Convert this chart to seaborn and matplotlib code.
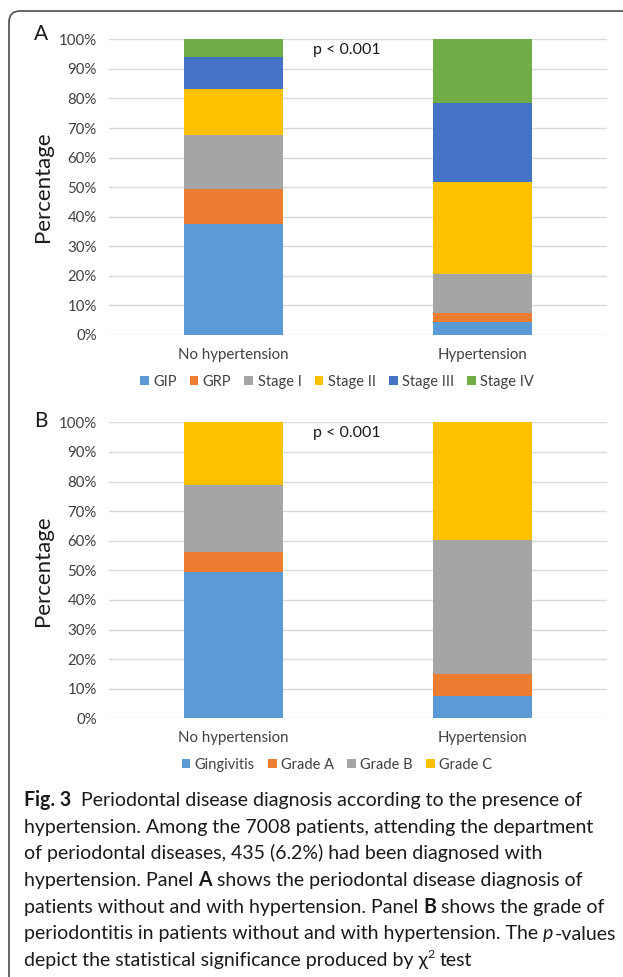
import numpy as np
import pandas as pd
import matplotlib
matplotlib.use("Agg")
import matplotlib.pyplot as plt
import seaborn as sns
from matplotlib.patches import FancyBboxPatch, Patch

# ---- data -------------------------------------------------------------
groups = ["No hypertension", "Hypertension"]

stage_labels = ["GIP", "GRP", "Stage I", "Stage II", "Stage III", "Stage IV"]
stage_no_htn = [37.7, 11.6, 18.5, 15.3, 10.9, 6.0]
stage_htn = [4.5, 2.8, 13.2, 31.1, 26.7, 21.7]

grade_labels = ["Gingivitis", "Grade A", "Grade B", "Grade C"]
grade_no_htn = [49.5, 6.8, 22.6, 21.1]
grade_htn = [7.5, 7.4, 45.3, 39.8]

y_ticks = [0, 10, 20, 30, 40, 50, 60, 70, 80, 90, 100]
p_text = "p < 0.001"

stage_colors = ["#5B9BD5", "#ED7D31", "#A5A5A5", "#FFC000", "#4472C4", "#70AD47"]
grade_colors = ["#5B9BD5", "#ED7D31", "#A5A5A5", "#FFC000"]

# ---- figure setup -----------------------------------------------------
sns.set_theme(style="white")
FONT = ["Lato", "DejaVu Sans"]
plt.rcParams["font.family"] = FONT

W, H = 623, 977
fig = plt.figure(figsize=(W / 100, H / 100), dpi=100)
fig.patch.set_facecolor("white")


def fx(px):
    return px / W


def fy(py):
    return 1 - py / H


def stacked_panel(rect, labels, first, second, colors):
    ax = fig.add_axes(rect)
    df = pd.DataFrame({
        "group": np.repeat(groups, len(labels)),
        "category": labels * 2,
        "value": list(first) + list(second),
    })
    df["top"] = df.groupby("group", sort=False)["value"].cumsum()
    # draw cumulative totals from the top layer down so lower layers sit in front
    for lab, col in reversed(list(zip(labels, colors))):
        sub = df[df["category"] == lab]
        sns.barplot(data=sub, x="group", y="top", order=groups, color=col,
                    saturation=1, width=0.4, linewidth=0, errorbar=None, ax=ax)
    ax.set_xlim(-0.5, 1.5)
    ax.set_ylim(0, 100)
    ax.set_yticks(y_ticks)
    ax.set_yticklabels([f"{t}%" for t in y_ticks])
    ax.yaxis.grid(True, color="#D9D9D9", linewidth=1.0)
    ax.set_axisbelow(True)
    for s in ax.spines.values():
        s.set_visible(False)
    ax.tick_params(axis="both", length=0, labelsize=10.8, labelcolor="#404040")
    ax.tick_params(axis="x", pad=9)
    ax.tick_params(axis="y", pad=9)
    ax.set_xlabel("")
    ax.set_ylabel("Percentage", fontsize=16, color="#1a1a1a", labelpad=4)
    ax.text(0.455, 96.4, p_text, ha="center", va="center", fontsize=11.5, color="#1a1a1a")
    return ax


ax_a = stacked_panel([fx(109.3), fy(335), fx(606.7 - 109.3), (335 - 39.3) / H],
                     stage_labels, stage_no_htn, stage_htn, stage_colors)
ax_b = stacked_panel([fx(109.3), fy(718.3), fx(606.7 - 109.3), (718.3 - 422.3) / H],
                     grade_labels, grade_no_htn, grade_htn, grade_colors)

fig.text(fx(41), fy(34), "A", fontsize=15, ha="center", va="center", color="#1a1a1a")
fig.text(fx(41), fy(421), "B", fontsize=15, ha="center", va="center", color="#1a1a1a")


def legend(labels, colors, y):
    handles = [Patch(facecolor=c, edgecolor="none", label=l) for l, c in zip(labels, colors)]
    fig.legend(handles=handles, loc="center", bbox_to_anchor=(fx(337), fy(y)),
               ncol=len(labels), frameon=False, fontsize=10.5, handlelength=0.6,
               handleheight=0.6, handletextpad=0.3, columnspacing=0.9,
               labelcolor="#404040")


legend(stage_labels, stage_colors, 382)
legend(grade_labels, grade_colors, 765)

# ---- frame ------------------------------------------------------------
frame = FancyBboxPatch((9, -20), 700, H - 11 + 20,
                       boxstyle="round,pad=0,rounding_size=11",
                       transform=None, facecolor="none", edgecolor="#5a5a5a",
                       linewidth=1.3)
fig.add_artist(frame)

# ---- caption ----------------------------------------------------------
renderer = fig.canvas.get_renderer()


def text_width(s, size, **kw):
    t = fig.text(0, 0, s, fontsize=size, transform=None, **kw)
    w = t.get_window_extent(renderer).width
    t.remove()
    return w


base = 14
ref_line = "hypertension. Among the 7008 patients, attending the department"
cap_size = base * (596 - 24) / text_width(ref_line, base)
space_w = text_width("x x", cap_size) - text_width("xx", cap_size)

caption = [
    [("Fig. 3", "bold"), ("  ", None), ("Periodontal disease diagnosis according to the presence of", "normal")],
    [("hypertension. Among the 7008 patients, attending the department", "normal")],
    [("of periodontal diseases, 435 (6.2%) had been diagnosed with", "normal")],
    [("hypertension. Panel", "normal"), (" ", None), ("A", "bold"), (" ", None),
     ("shows the periodontal disease diagnosis of", "normal")],
    [("patients without and with hypertension. Panel", "normal"), (" ", None), ("B", "bold"),
     (" ", None), ("shows the grade of", "normal")],
    [("periodontitis in patients without and with hypertension. The", "normal"), (" ", None),
     ("p", "italic"), ("-values", "normal")],
    [("depict the statistical significance produced by \u03c7", "normal"), ("2", "sup"),
     (" ", None), ("test", "normal")],
]

x0 = 24
for i, runs in enumerate(caption):
    yb = H - (806 + i * 26.7)
    x = x0
    for s, style in runs:
        if style is None:
            x += space_w * len(s)
            continue
        kw = dict(fontsize=cap_size, color="#1a1a1a", transform=None,
                  ha="left", va="baseline", family=FONT)
        yy = yb
        if style == "bold":
            kw["fontweight"] = "bold"
        elif style == "italic":
            kw["fontstyle"] = "italic"
        elif style == "sup":
            kw["fontsize"] = cap_size * 0.62
            yy = yb + cap_size * 0.55
        t = fig.text(x, yy, s, **kw)
        x = t.get_window_extent(renderer).x1 + (1 if style == "italic" else 0)

fig.savefig("out.png", dpi=100)
